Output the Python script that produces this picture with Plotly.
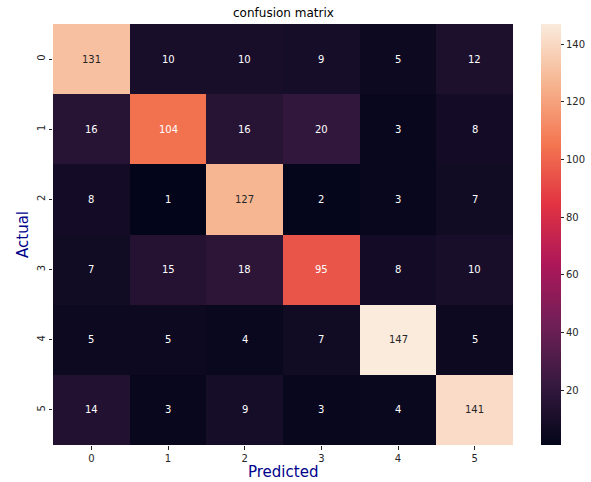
import plotly.graph_objects as go

labels = ["0", "1", "2", "3", "4", "5"]
matrix = [
    [131, 10, 10, 9, 5, 12],
    [16, 104, 16, 20, 3, 8],
    [8, 1, 127, 2, 3, 7],
    [7, 15, 18, 95, 8, 10],
    [5, 5, 4, 7, 147, 5],
    [14, 3, 9, 3, 4, 141],
]
cbar_ticks = [20, 40, 60, 80, 100, 120, 140]

rocket = [
    [0.0, "#03051a"],
    [1 / 7, "#35193e"],
    [2 / 7, "#701f57"],
    [3 / 7, "#ad1759"],
    [4 / 7, "#e13342"],
    [5 / 7, "#f37651"],
    [6 / 7, "#f6b48f"],
    [1.0, "#faebdd"],
]

zmin = min(min(r) for r in matrix)
zmax = max(max(r) for r in matrix)


def hex_to_rgb(h):
    h = h.lstrip("#")
    return [int(h[i:i + 2], 16) / 255 for i in (0, 2, 4)]


def color_at(t):
    for k in range(len(rocket) - 1):
        a, ca = rocket[k]
        b, cb = rocket[k + 1]
        if a <= t <= b:
            f = (t - a) / (b - a) if b > a else 0
            c1, c2 = hex_to_rgb(ca), hex_to_rgb(cb)
            return [c1[i] + f * (c2[i] - c1[i]) for i in range(3)]
    return hex_to_rgb(rocket[-1][1])


def lum(rgb):
    lin = [c / 12.92 if c <= 0.03928 else ((c + 0.055) / 1.055) ** 2.4 for c in rgb]
    return 0.2126 * lin[0] + 0.7152 * lin[1] + 0.0722 * lin[2]


FONT = "DejaVu Sans"

fig = go.Figure(
    go.Heatmap(
        z=matrix,
        x=list(range(len(labels))),
        y=list(range(len(labels))),
        colorscale=rocket,
        zmin=zmin,
        zmax=zmax,
        xgap=0,
        ygap=0,
        hoverinfo="z",
        colorbar=dict(
            x=1.061,
            xanchor="left",
            xref="paper",
            xpad=0,
            ypad=0,
            y=0.5,
            yanchor="middle",
            len=1.0,
            lenmode="fraction",
            thickness=20,
            thicknessmode="pixels",
            outlinewidth=0,
            tickvals=cbar_ticks,
            ticks="outside",
            ticklen=3.5,
            tickwidth=0.8,
            tickcolor="#262626",
            tickfont=dict(family=FONT, size=10, color="#262626"),
        ),
    )
)

annotations = []
for i, row in enumerate(matrix):
    for j, v in enumerate(row):
        t = (v - zmin) / (zmax - zmin)
        col = "#262626" if lum(color_at(t)) > 0.408 else "white"
        annotations.append(
            dict(x=j, y=i, xref="x", yref="y", text=str(v), showarrow=False,
                 font=dict(family=FONT, size=10, color=col))
        )

annotations.append(dict(x=0.5, y=1, xref="paper", yref="paper", yanchor="bottom",
                        yshift=2, text="confusion matrix", showarrow=False,
                        font=dict(family=FONT, size=12, color="black")))
annotations.append(dict(x=0.5, y=0, xref="paper", yref="paper", yanchor="middle",
                        yshift=-27, borderpad=0, text="Predicted", showarrow=False,
                        font=dict(family=FONT, size=15, color="darkblue")))
annotations.append(dict(x=0, y=0.5, xref="paper", yref="paper", xanchor="center",
                        yanchor="middle", xshift=-30.5, text="Actual", textangle=-90,
                        showarrow=False, font=dict(family=FONT, size=15, color="darkblue")))

fig.update_layout(
    width=591,
    height=482,
    margin=dict(l=53, r=78, t=24, b=37, autoexpand=False),
    paper_bgcolor="white",
    plot_bgcolor="white",
    annotations=annotations,
    font=dict(family=FONT, size=10, color="#262626"),
    xaxis=dict(
        tickvals=list(range(len(labels))),
        ticktext=labels,
        range=[-0.5, 5.5],
        showgrid=False,
        zeroline=False,
        ticks="outside",
        ticklen=3.5,
        tickwidth=0.8,
        tickcolor="#262626",
        tickfont=dict(family=FONT, size=10, color="#262626"),
        automargin=False,
        showline=False,
    ),
    yaxis=dict(
        tickvals=list(range(len(labels))),
        ticktext=labels,
        range=[5.5, -0.5],
        showgrid=False,
        zeroline=False,
        ticks="outside",
        ticklen=3.5,
        tickwidth=0.8,
        tickcolor="#262626",
        tickangle=-90,
        tickfont=dict(family=FONT, size=10, color="#262626"),
        automargin=False,
        showline=False,
    ),
)

fig.write_html(
    "out.html",
    config={"displayModeBar": False},
    post_script="document.body.style.margin='0';document.body.style.overflow='hidden';",
)
